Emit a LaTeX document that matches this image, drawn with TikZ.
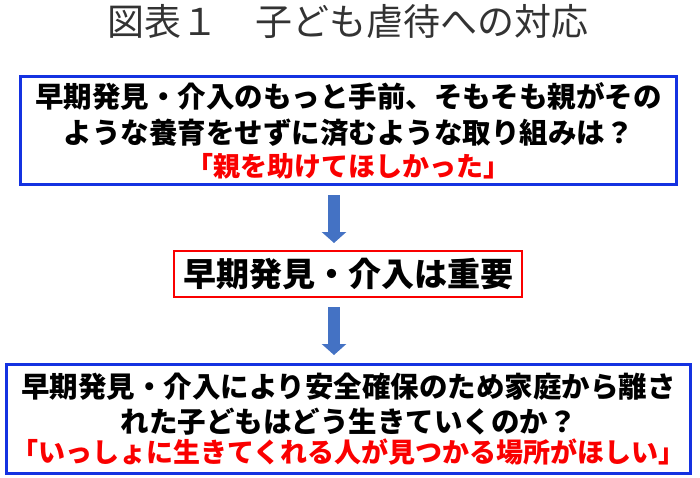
\documentclass[tikz,border=0pt]{standalone}
\usepackage{fontspec}
\setmainfont{Noto Sans CJK JP}
\usepackage{tikz}
\usetikzlibrary{arrows.meta}
\definecolor{boxblue}{RGB}{20,50,225}
\definecolor{boxred}{RGB}{250,0,0}
\definecolor{arrowblue}{RGB}{68,114,196}

\begin{document}
\begin{tikzpicture}[x=1pt, y=-1pt,
    bluebox/.style={draw=boxblue, line width=3pt, inner sep=0pt, align=center, font=\bfseries\fontsize{28.5}{36}\selectfont},
    redbox/.style={draw=boxred, line width=2pt, inner sep=0pt, align=center, font=\bfseries\fontsize{33}{40}\selectfont},
    downarrow/.style={draw=arrowblue, line width=12pt, -{Triangle[length=11pt, width=24pt]}}]
            \useasboundingbox (0,0) rectangle (700,477);
            \node[text=black!80, font=\fontsize{37}{44}\selectfont] (title) at (347.5,21) {図表１　子ども虐待への対応};
            \node[bluebox, minimum width=656pt, minimum height=108pt] (early) at (348.5,130.5) {早期発見・介入のもっと手前、そもそも親がその\\ような養育をせずに済むような取り組みは？\\[-3pt]{\color{boxred}\fontsize{27}{36}\selectfont 「親を助けてほしかった」}};
            \node[redbox, minimum width=348pt, minimum height=46pt] (key) at (348,274) {早期発見・介入は重要};
            \node[bluebox, minimum width=684pt, minimum height=109pt] (after) at (348.5,419) {早期発見・介入により安全確保のため家庭から離さ\\[-1pt]れた子どもはどう生きていくのか？\\[-6pt]{\color{boxred}\fontsize{27}{36}\selectfont 「いっしょに生きてくれる人が見つかる場所がほしい」}};
            \draw[downarrow] ([xshift=-14.5pt, yshift=-9pt]early.south) -- ([xshift=-14pt, yshift=7pt]key.north);
            \draw[downarrow] ([xshift=-14pt, yshift=-9pt]key.south) -- ([xshift=-14.5pt, yshift=8pt]after.north);
\end{tikzpicture}
\end{document}
